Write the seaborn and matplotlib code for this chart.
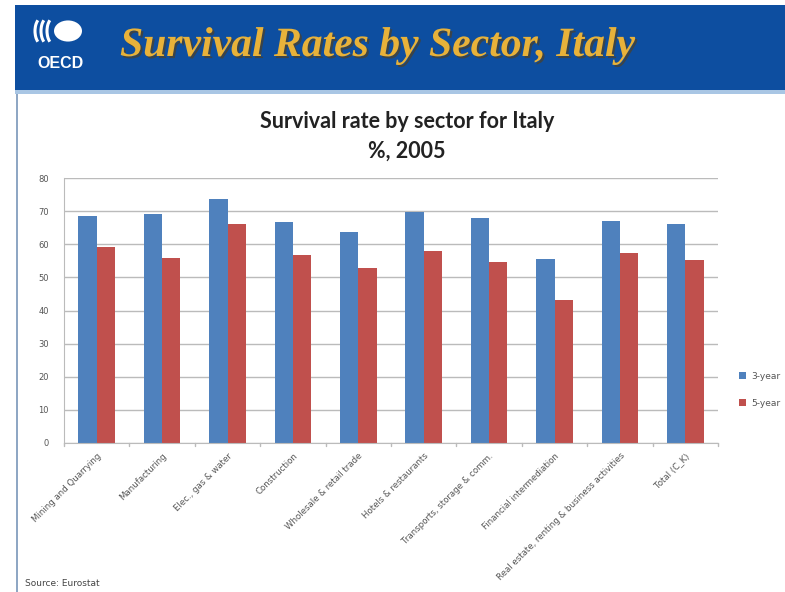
import matplotlib
matplotlib.use("Agg")
import matplotlib.pyplot as plt
from matplotlib.patches import Rectangle, Circle, Arc
import matplotlib.patheffects as pe
import seaborn as sns
import pandas as pd

sectors = [
    "Mining and Quarrying",
    "Manufacturing",
    "Elec., gas & water",
    "Construction",
    "Wholesale & retail trade",
    "Hotels & restaurants",
    "Transports, storage & comm.",
    "Financial intermediation",
    "Real estate, renting & business activities",
    "Total (C_K)",
]
three_year = [68.4, 69.2, 73.8, 66.7, 63.7, 69.7, 67.8, 55.5, 66.9, 66.1]
five_year = [59.1, 55.7, 66.1, 56.7, 52.9, 58.0, 54.6, 43.2, 57.3, 55.3]
series_names = ["3-year", "5-year"]
y_ticks = [0, 10, 20, 30, 40, 50, 60, 70, 80]

df = pd.DataFrame({
    "sector": sectors * 2,
    "rate": three_year + five_year,
    "series": [series_names[0]] * len(sectors) + [series_names[1]] * len(sectors),
})

sns.set_style("white")
plt.rcParams["font.family"] = ["DejaVu Sans"]

W, H = 785, 592
fig = plt.figure(figsize=(W / 100, H / 100), dpi=100)
fig.patch.set_facecolor("white")

def fx(px):
    return px / W

def fy(py):
    return 1 - py / H

# Slide header band
fig.patches.append(Rectangle((fx(15), fy(90)), fx(W - 15), 85 / H,
                             transform=fig.transFigure, facecolor="#0D4EA0",
                             edgecolor="none", zorder=0))
fig.patches.append(Rectangle((fx(15), fy(94)), fx(W - 15), 4 / H,
                             transform=fig.transFigure, facecolor="#A9C6E4",
                             edgecolor="none", zorder=0))
# thin left rule of the slide
fig.patches.append(Rectangle((fx(16), 0), 2 / W, fy(94),
                             transform=fig.transFigure, facecolor="#8FA7C4",
                             edgecolor="none", zorder=0))

# OECD emblem
fig.patches.append(Circle((fx(68), fy(31)), 14 / W, transform=fig.transFigure,
                          facecolor="white", edgecolor="none"))
for dx in [47, 41, 35]:
    fig.patches.append(Arc((fx(dx + 8), fy(31)), 16 / W, 28 / H,
                           theta1=110, theta2=250, transform=fig.transFigure,
                           color="white", lw=2.2))
fig.text(fx(61), fy(63), "OECD", color="white", fontsize=11.5, fontweight="bold",
         ha="center", va="center", family="Liberation Sans")

# Slide title with a soft drop shadow
fig.text(fx(120), fy(46), "Survival Rates by Sector, Italy", color="#E8B23A",
         fontsize=30, fontstyle="italic", fontweight="bold",
         family="Liberation Serif", ha="left", va="center",
         path_effects=[pe.SimplePatchShadow(offset=(1.5, -1.5),
                                            shadow_rgbFace="#5A3E10", alpha=0.6),
                       pe.Normal()])

# Chart titles
fig.text(fx(407), fy(121), "Survival rate by sector for Italy", fontsize=15.5,
         fontweight="bold", family="Lato", ha="center", va="center", color="#222222")
fig.text(fx(407), fy(151), "%, 2005", fontsize=15.5, fontweight="bold",
         family="Lato", ha="center", va="center", color="#222222")

ax = fig.add_axes([fx(64), fy(443), fx(718) - fx(64), (443 - 178) / H])
sns.barplot(data=df, x="sector", y="rate", hue="series", ax=ax,
            palette=["#4F81BD", "#C0504D"], width=0.56, gap=0,
            saturation=1, linewidth=0, legend=True)

ax.set_ylim(0, 80)
ax.set_xlim(-0.5, len(sectors) - 0.5)
ax.set_yticks(y_ticks)
ax.set_yticklabels([str(v) for v in y_ticks], fontsize=6, color="#555555")
ax.yaxis.grid(True, color="#BBBBBB", lw=1)
ax.set_axisbelow(True)
ax.set_xlabel("")
ax.set_ylabel("")
ax.set_xticks(range(len(sectors)))
ax.set_xticklabels(sectors, rotation=45, ha="right", rotation_mode="anchor",
                   fontsize=6.2, color="#555555")
ax.tick_params(axis="x", length=0, pad=6)
ax.tick_params(axis="y", length=3, color="#BBBBBB", pad=8)
for side in ["top", "right"]:
    ax.spines[side].set_visible(False)
for side in ["left", "bottom"]:
    ax.spines[side].set_color("#BBBBBB")
# category separator tick marks along the baseline
for k in range(len(sectors) + 1):
    ax.plot([k - 0.5, k - 0.5], [0, -0.9], color="#BBBBBB", lw=1, clip_on=False)

ax.legend(loc="center left", bbox_to_anchor=(1.02, 0.2), frameon=False,
          fontsize=6.5, handlelength=0.8, handleheight=0.8, handletextpad=0.5,
          labelspacing=2.0, labelcolor="#555555")

fig.text(fx(25), fy(584), "Source: Eurostat", fontsize=6.5, color="#444444",
         ha="left", va="center")

fig.savefig("out.png", dpi=100)
